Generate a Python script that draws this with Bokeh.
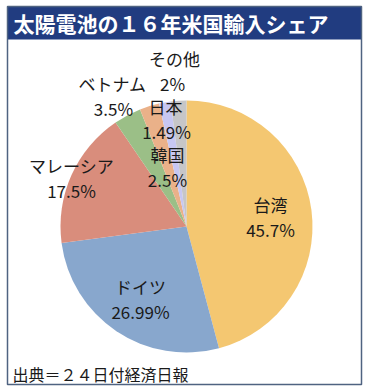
import math
from bokeh.plotting import figure
from bokeh.models import ColumnDataSource, Range1d
from bokeh.core.properties import value
from bokeh.embed import file_html
from bokeh.resources import INLINE

# ---- data ----
countries = ["台湾", "ドイツ", "マレーシア", "ベトナム", "韓国", "日本", "その他"]
shares = [45.7, 26.99, 17.5, 3.5, 2.5, 1.49, 2.0]
colors = ["#F4C771", "#88A7CD", "#D98D7C", "#9BBF87", "#EAB189", "#C7C7F2", "#C6C6C8"]
title_text = "太陽電池の１６年米国輸入シェア"
source_text = "出典＝２４日付経済日報"

# ---- layout (page pixel coordinates, y measured downward) ----
W, H = 366, 388
BOX = (7, 361, 6, 384)          # left, right, top, bottom
TITLE_BOTTOM = 39
PCX, PCY, R = 186, 226, 126
name_xy = [(270, 204), (140, 286), (71, 165), (112, 83), (167, 154), (165, 106), (174, 58)]
pct_xy = [(270, 229), (140, 311), (71, 190), (113, 108), (167, 179), (166, 131), (172, 83)]

FONT = "Noto Sans CJK JP"


def fy(py):
    return H - py


p = figure(width=W, height=H, output_backend="svg", toolbar_location=None,
           x_range=Range1d(0, W), y_range=Range1d(0, H), min_border=0)
p.axis.visible = False
p.grid.visible = False
p.outline_line_color = None
p.background_fill_color = "white"
p.border_fill_color = "white"

total = sum(shares)
starts, ends = [], []
acc = 0.0
for v in shares:
    starts.append(math.pi / 2 - 2 * math.pi * acc / total)
    acc += v
    ends.append(math.pi / 2 - 2 * math.pi * acc / total)

src = ColumnDataSource(dict(start=starts, end=ends, color=colors))
p.wedge(x=PCX, y=fy(PCY), radius=R, start_angle="start", end_angle="end",
        direction="clock", fill_color="color", line_color=None, source=src)

# frame and title bar
l, r, t, b = BOX
p.quad(left=l, right=r, top=fy(t), bottom=fy(TITLE_BOTTOM), fill_color="#213C80", line_color=None)
p.quad(left=l, right=r, top=fy(t), bottom=fy(b), fill_color=None,
       line_color="#4f6381", line_width=1.5)
p.text(x=[13], y=[fy(22)], text=[title_text], text_color="white",
       text_font=value(FONT), text_font_style="bold", text_font_size="21px",
       text_baseline="middle", text_align="left")

# labels
lab = ColumnDataSource(dict(
    x=[a for a, b_ in name_xy], y=[fy(b_) for a, b_ in name_xy], t=countries))
pct = ColumnDataSource(dict(
    x=[a for a, b_ in pct_xy], y=[fy(b_) for a, b_ in pct_xy], t=[f"{v:g}%" for v in shares]))
for s in (lab, pct):
    p.text(x="x", y="y", text="t", source=s, text_color="#1a1a1a",
           text_font=value(FONT), text_font_size="17px",
           text_baseline="middle", text_align="center")

# source note
p.text(x=[12], y=[fy(373)], text=[source_text], text_color="#1a1a1a",
       text_font=value(FONT), text_font_size="16px",
       text_baseline="middle", text_align="left")

open("out.html", "w").write(file_html(p, INLINE))
